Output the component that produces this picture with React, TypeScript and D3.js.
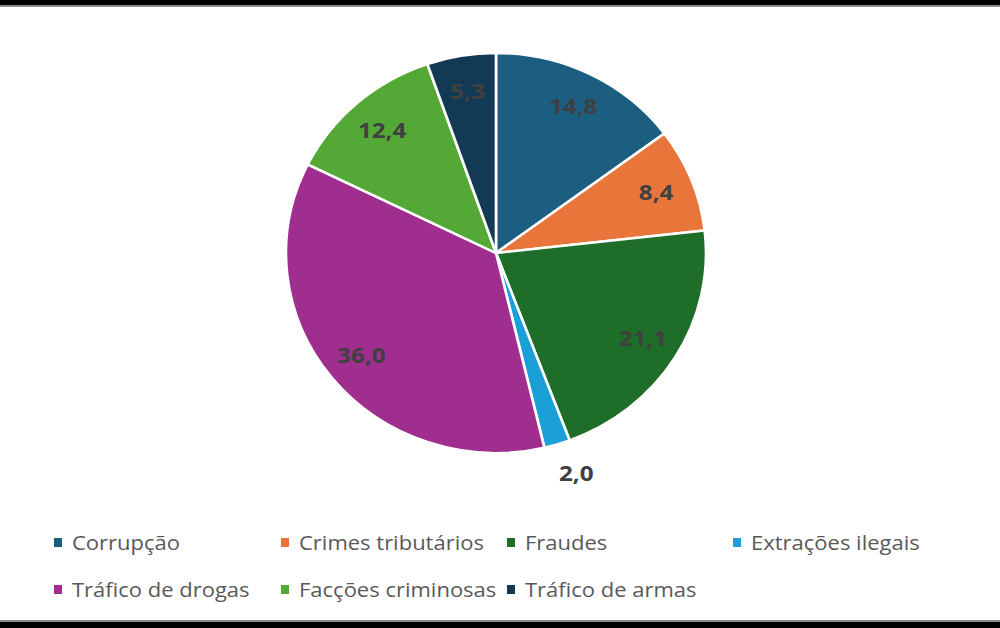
import React, { useEffect, useRef } from 'react';
import * as d3 from 'd3';

const categories = ['Corrupção', 'Crimes tributários', 'Fraudes', 'Extrações ilegais', 'Tráfico de drogas', 'Facções criminosas', 'Tráfico de armas'];
const values = [14.8, 8.4, 21.1, 2.0, 36.0, 12.4, 5.3];
const colors = ['#1b5e80', '#e8763a', '#1e6d28', '#1aa0d6', '#a02e8f', '#54a836', '#133a55'];
// legend layout: two rows
const legendRows = [[0, 1, 2, 3], [4, 5, 6]];

const App = () => {
    const svgRef = useRef<SVGSVGElement>(null);

    useEffect(() => {
        const svg = d3.select(svgRef.current);
        svg.selectAll('*').remove();
        const width = 1000;
        const height = 628;
        const cx = 496;
        const cy = 253;
        const r = 200;
        const sx = 1.05;
        const font = '"Open Sans", Lato, sans-serif';

        svg.append('rect').attr('width', width).attr('height', height).attr('fill', '#fff');

        // frame bands
        svg.append('rect').attr('x', 0).attr('y', 0).attr('width', width).attr('height', 7).attr('fill', '#8a8a8a');
        svg.append('rect').attr('x', 0).attr('y', 0).attr('width', width).attr('height', 5).attr('fill', '#000');
        svg.append('rect').attr('x', 0).attr('y', 620).attr('width', width).attr('height', 8).attr('fill', '#8a8a8a');
        svg.append('rect').attr('x', 0).attr('y', 622).attr('width', width).attr('height', 6).attr('fill', '#000');

        const data = categories.map((c, i) => ({ name: c, value: values[i], color: colors[i] }));
        const pie = d3.pie<any>().value((d) => d.value).sort(null);
        const arcs = pie(data);
        const arc = d3.arc<any>().innerRadius(0).outerRadius(r);

        const g = svg.append('g').attr('transform', `translate(${cx},${cy}) scale(${sx},1)`);
        g.selectAll('path')
            .data(arcs)
            .enter()
            .append('path')
            .attr('d', arc)
            .attr('fill', (d) => d.data.color)
            .attr('stroke', '#fff')
            .attr('stroke-width', 2.5);

        const fmt = (v: number) => v.toFixed(1).replace('.', ',');
        const outside = (d: any) => d.data.value < 3;
        const lpos = (d: any) => {
            const a = (d.startAngle + d.endAngle) / 2;
            const lr = outside(d) ? 230 : 164;
            const x = cx + Math.sin(a) * lr * sx;
            const y = cy - Math.cos(a) * lr;
            // outside labels sit a little to the right of the slice
            return outside(d) ? [x + 10, y] : [x, y];
        };
        svg.selectAll('.lbl')
            .data(arcs)
            .enter()
            .append('text')
            .attr('class', 'lbl')
            .attr('transform', (d) => `translate(${lpos(d)[0]},${lpos(d)[1]}) scale(1.1,1)`)
            .attr('dy', '0.35em')
            .attr('text-anchor', 'middle')
            .style('font-family', font)
            .style('font-size', '22px')
            .style('font-weight', 'bold')
            .attr('fill', '#404040')
            .text((d) => fmt(d.data.value));

        // legend
        const xs = [[54, 281, 507, 733], [54, 281, 507]];
        const ys = [543, 590];
        legendRows.forEach((row, ri) => {
            row.forEach((idx, k) => {
                const lg = svg.append('g').attr('transform', `translate(${xs[ri][k]},${ys[ri]})`);
                lg.append('rect').attr('x', 0).attr('y', -5).attr('width', 8).attr('height', 9).attr('fill', colors[idx]);
                lg.append('text')
                    .attr('transform', 'translate(18,0) scale(1.1,1)')
                    .attr('dy', '0.35em')
                    .style('font-family', font)
                    .style('font-size', '20px')
                    .attr('fill', '#595959')
                    .text(categories[idx]);
            });
        });
    }, []);

    return <svg ref={svgRef} width={1000} height={628} style={{ position: 'absolute', left: 0, top: 0 }} />;
};

export default App;
